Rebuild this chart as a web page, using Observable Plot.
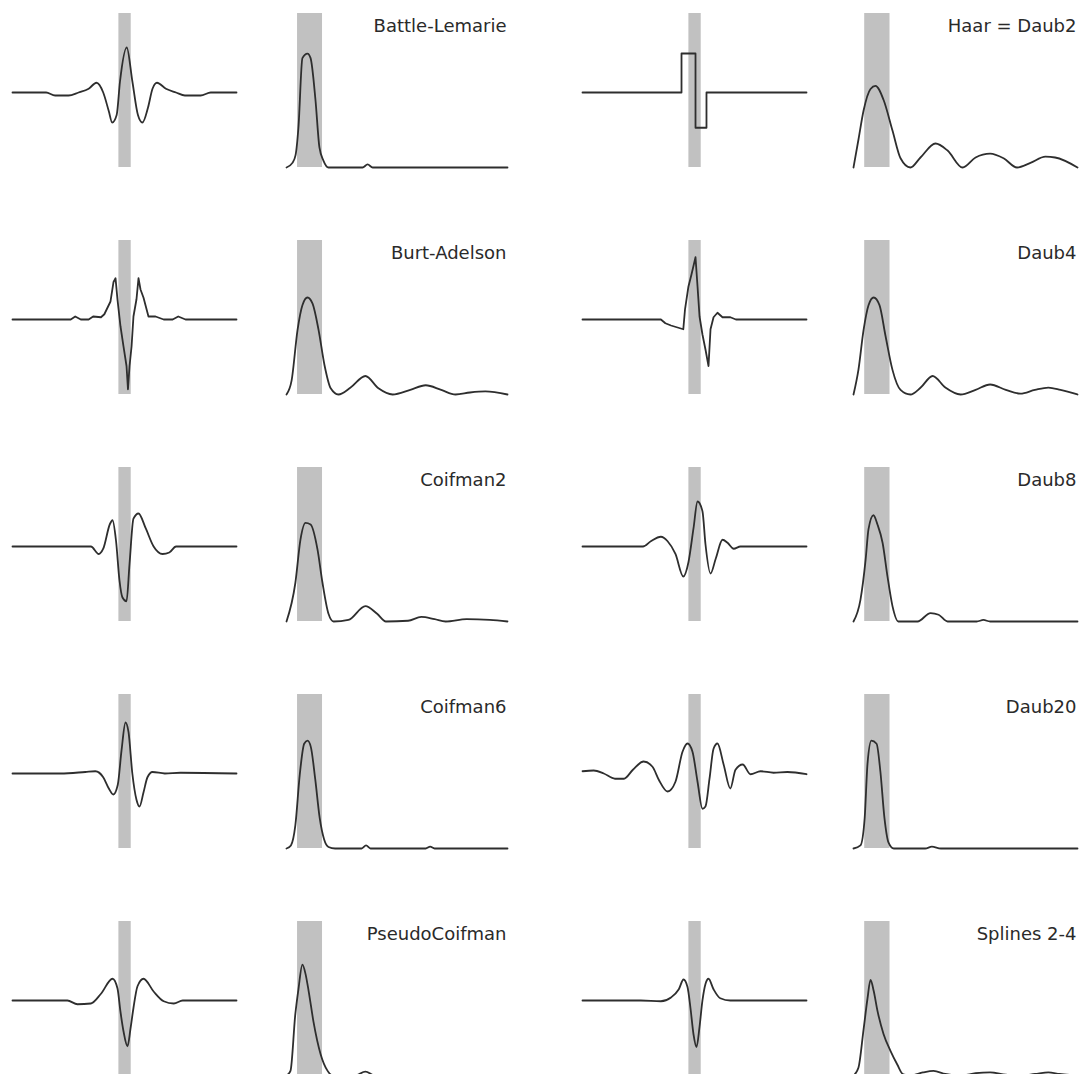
<!DOCTYPE html>
<html>
<head>
<meta charset="utf-8">
<script src="https://cdn.jsdelivr.net/npm/d3@7"></script>
<script src="https://cdn.jsdelivr.net/npm/@observablehq/plot@0.6"></script>
<style>
  html, body { margin: 0; padding: 0; background: #fff; }
  #sheet { position: relative; width: 1084px; height: 1074px; overflow: hidden; background: #fff; }
  .panel { position: absolute; }
  .panel svg { overflow: visible; }
</style>
</head>
<body>
<div id="sheet"></div>
<script>
// Wavelet shapes (time domain: [t, amplitude]) and spectra (frequency: [f, magnitude]).
// Time runs over [-1, 1] with the wavelet centred at 0; frequency runs over [0, 1].

const battleTime = [[-1,0],[-0.70,0],[-0.62,-0.04],[-0.50,-0.04],[-0.41,0],[-0.32,0.05],[-0.25,0.13],[-0.19,0],[-0.14,-0.25],[-0.11,-0.40],[-0.07,-0.30],[-0.04,0.15],[0.02,0.60],[0.07,0.15],[0.12,-0.30],[0.16,-0.40],[0.21,-0.20],[0.25,0.05],[0.29,0.13],[0.37,0.05],[0.46,0],[0.54,-0.04],[0.68,-0.04],[0.77,0],[1,0]];
const battleFreq = [[0,0],[0.027,0.03],[0.041,0.08],[0.054,0.26],[0.072,0.71],[0.095,0.74],[0.109,0.71],[0.131,0.44],[0.149,0.13],[0.167,0.045],[0.19,0],[0.344,0],[0.367,0.02],[0.39,0],[1,0]];

const haarTime = [[-1,0],[-0.116,0],[-0.116,0.52],[0.009,0.52],[0.009,-0.47],[0.107,-0.47],[0.107,0],[1,0]];
const haarFreq = [[0,0],[0.022,0.18],[0.045,0.37],[0.076,0.51],[0.098,0.53],[0.134,0.44],[0.174,0.24],[0.21,0.06],[0.254,0],[0.299,0.065],[0.366,0.156],[0.42,0.11],[0.487,0],[0.545,0.065],[0.61,0.09],[0.67,0.06],[0.73,0],[0.79,0.03],[0.857,0.07],[0.90,0.065],[1,0]];

const burtTime = [[-1,0],[-0.48,0],[-0.44,0.04],[-0.39,0],[-0.32,0],[-0.28,0.04],[-0.21,0.03],[-0.18,0.07],[-0.125,0.24],[-0.098,0.50],[-0.08,0.55],[-0.063,0.27],[-0.036,-0.09],[-0.009,-0.36],[0.018,-0.62],[0.031,-0.93],[0.045,-0.62],[0.063,-0.36],[0.08,0.04],[0.107,0.27],[0.125,0.55],[0.143,0.40],[0.17,0.29],[0.214,0.04],[0.277,0.04],[0.35,0],[0.43,0],[0.48,0.04],[0.545,0],[1,0]];
const burtFreq = [[0,0],[0.023,0.09],[0.05,0.42],[0.072,0.58],[0.095,0.63],[0.118,0.59],[0.145,0.42],[0.172,0.19],[0.2,0.04],[0.235,0],[0.29,0.045],[0.357,0.12],[0.416,0.04],[0.48,0],[0.56,0.03],[0.63,0.06],[0.70,0.03],[0.765,0],[0.83,0.013],[0.9,0.02],[1,0]];

const daub4Time = [[-1,0],[-0.30,0],[-0.26,-0.05],[-0.21,-0.08],[-0.10,-0.13],[-0.085,0.13],[-0.054,0.44],[-0.027,0.60],[0.009,0.83],[0.027,0.44],[0.045,0.04],[0.071,-0.2],[0.098,-0.40],[0.125,-0.62],[0.143,-0.13],[0.17,0.03],[0.205,0.09],[0.25,0.03],[0.32,0.03],[0.37,0],[1,0]];
const daub4Freq = [[0,0],[0.022,0.16],[0.045,0.42],[0.067,0.58],[0.09,0.63],[0.116,0.58],[0.143,0.38],[0.174,0.16],[0.21,0.03],[0.254,0],[0.30,0.045],[0.353,0.12],[0.41,0.045],[0.478,0],[0.545,0.03],[0.61,0.065],[0.68,0.03],[0.745,0.006],[0.81,0.03],[0.87,0.045],[0.924,0.03],[1,0]];

const coif2Time = [[-1,0],[-0.30,0],[-0.23,-0.1],[-0.19,-0.03],[-0.13,0.30],[-0.107,0.35],[-0.076,0.08],[-0.045,-0.45],[-0.018,-0.68],[0.018,-0.73],[0.045,-0.23],[0.08,0.37],[0.125,0.44],[0.19,0.24],[0.26,0],[0.34,-0.1],[0.40,-0.08],[0.46,0],[1,0]];
const coif2Freq = [[0,0],[0.04,0.25],[0.063,0.53],[0.086,0.64],[0.109,0.63],[0.14,0.47],[0.163,0.25],[0.19,0.05],[0.213,0],[0.28,0.01],[0.357,0.10],[0.41,0.05],[0.45,0],[0.55,0.005],[0.61,0.03],[0.67,0.015],[0.72,0],[0.815,0.015],[0.92,0.01],[1,0]];

const daub8Time = [[-1,0],[-0.46,0],[-0.39,0.07],[-0.30,0.13],[-0.24,0.07],[-0.17,-0.1],[-0.10,-0.40],[-0.054,-0.21],[-0.009,0.24],[0.027,0.60],[0.071,0.47],[0.098,0.03],[0.143,-0.36],[0.19,-0.16],[0.25,0.09],[0.295,0.05],[0.35,-0.03],[0.41,0],[1,0]];
const daub8Freq = [[0,0],[0.031,0.14],[0.054,0.40],[0.067,0.60],[0.089,0.69],[0.107,0.63],[0.13,0.51],[0.152,0.29],[0.174,0.10],[0.2,0],[0.286,0],[0.344,0.055],[0.38,0.044],[0.42,0],[0.55,0],[0.58,0.01],[0.61,0],[1,0]];

const coif6Time = [[-1,0],[-0.57,0],[-0.35,0.02],[-0.26,0.03],[-0.19,-0.05],[-0.14,-0.20],[-0.10,-0.28],[-0.06,-0.15],[-0.027,0.30],[0.009,0.68],[0.036,0.55],[0.07,0],[0.107,-0.35],[0.134,-0.44],[0.17,-0.25],[0.205,-0.05],[0.25,0.02],[0.36,0],[0.5,0.01],[1,0]];
const coif6Freq = [[0,0],[0.02,0.02],[0.04,0.15],[0.06,0.48],[0.08,0.68],[0.095,0.70],[0.11,0.66],[0.13,0.45],[0.15,0.20],[0.17,0.06],[0.19,0.01],[0.22,0],[0.34,0],[0.36,0.02],[0.38,0],[0.63,0],[0.65,0.012],[0.67,0],[1,0]];

const daub20Time = [[-1,0.03],[-0.90,0.04],[-0.81,0],[-0.71,-0.07],[-0.63,-0.07],[-0.55,0.05],[-0.455,0.16],[-0.375,0.09],[-0.32,-0.08],[-0.24,-0.24],[-0.17,-0.11],[-0.107,0.29],[-0.0625,0.40],[-0.018,0.29],[0.027,-0.11],[0.071,-0.47],[0.098,-0.44],[0.134,-0.07],[0.17,0.33],[0.205,0.40],[0.26,0.12],[0.32,-0.2],[0.366,0.05],[0.43,0.12],[0.5,-0.01],[0.59,0.03],[0.705,0.01],[0.83,0.02],[1,-0.01]];
const daub20Freq = [[0,0],[0.031,0.02],[0.05,0.20],[0.0625,0.55],[0.08,0.70],[0.103,0.68],[0.12,0.50],[0.138,0.20],[0.156,0.04],[0.18,0],[0.32,0],[0.35,0.012],[0.39,0],[1,0]];

const pseudoTime = [[-1,0],[-0.51,0],[-0.42,-0.05],[-0.30,-0.04],[-0.21,0.09],[-0.107,0.29],[-0.0625,0.16],[-0.036,-0.15],[-0.009,-0.41],[0.027,-0.61],[0.054,-0.37],[0.08,-0.10],[0.116,0.19],[0.17,0.29],[0.26,0.12],[0.35,-0.01],[0.44,-0.04],[0.52,0],[1,0]];
const pseudoFreq = [[0,0],[0.018,0.03],[0.04,0.40],[0.054,0.56],[0.072,0.72],[0.086,0.66],[0.1,0.55],[0.122,0.35],[0.154,0.14],[0.186,0.03],[0.21,0],[0.31,0],[0.357,0.025],[0.4,0],[1,0]];

const splineTime = [[-1,0],[-0.48,0],[-0.30,-0.01],[-0.21,0.04],[-0.14,0.15],[-0.098,0.28],[-0.0625,0.18],[-0.036,-0.10],[-0.009,-0.45],[0.018,-0.62],[0.045,-0.35],[0.071,0],[0.098,0.22],[0.125,0.29],[0.17,0.15],[0.23,0.03],[0.32,0],[1,0]];
const splineFreq = [[0,0],[0.022,0.05],[0.045,0.30],[0.0625,0.50],[0.076,0.62],[0.09,0.55],[0.107,0.42],[0.134,0.27],[0.165,0.16],[0.196,0.07],[0.22,0.01],[0.254,0],[0.31,0.02],[0.357,0.03],[0.41,0.01],[0.48,0],[0.545,0.015],[0.61,0.02],[0.68,0.005],[0.745,0],[0.81,0.01],[0.87,0.02],[0.92,0.01],[1,0]];

// Shaded windows: the wavelet's support centre and its main frequency band.
const timeBand = [-0.05, 0.06];
const freqBand = [0.05, 0.163];

const wavelets = [
  {name: "Battle-Lemarie", time: battleTime, freq: battleFreq, row: 0, side: 0, curve: "monotone-x"},
  {name: "Haar = Daub2",   time: haarTime,   freq: haarFreq,   row: 0, side: 1, curve: "linear"},
  {name: "Burt-Adelson",   time: burtTime,   freq: burtFreq,   row: 1, side: 0, curve: "linear"},
  {name: "Daub4",          time: daub4Time,  freq: daub4Freq,  row: 1, side: 1, curve: "linear"},
  {name: "Coifman2",       time: coif2Time,  freq: coif2Freq,  row: 2, side: 0, curve: "monotone-x"},
  {name: "Daub8",          time: daub8Time,  freq: daub8Freq,  row: 2, side: 1, curve: "monotone-x"},
  {name: "Coifman6",       time: coif6Time,  freq: coif6Freq,  row: 3, side: 0, curve: "monotone-x"},
  {name: "Daub20",         time: daub20Time, freq: daub20Freq, row: 3, side: 1, curve: "monotone-x"},
  {name: "PseudoCoifman",  time: pseudoTime, freq: pseudoFreq, row: 4, side: 0, curve: "monotone-x"},
  {name: "Splines 2-4",    time: splineTime, freq: splineFreq, row: 4, side: 1, curve: "monotone-x"}
];

// Page layout of the 5 x 4 grid of small panels.
const rowTop = [13, 240, 467, 694, 921];
const colLeft = [12, 286, 582, 853];
const colWidth = [224, 221, 224, 224];
const panelHeight = 154;
const PAD = 6;
const INK = "#2e2e2e";
const SHADE = "#c1c1c1";
const TIME_Y = [-1, 1.053];   // zero line sits 79px below the panel top
const FREQ_Y = [0, 1];

const sheet = document.getElementById("sheet");

function place(svg, left, top) {
  const box = document.createElement("div");
  box.className = "panel";
  box.style.left = (left - PAD) + "px";
  box.style.top = (top - PAD) + "px";
  box.appendChild(svg);
  sheet.appendChild(box);
}

function timePanel(w) {
  return Plot.plot({
    width: w.pw + 2 * PAD,
    height: panelHeight + 2 * PAD,
    margin: PAD,
    x: {domain: [-1, 1], axis: null},
    y: {domain: TIME_Y, axis: null},
    marks: [
      Plot.rect([timeBand], {x1: d => d[0], x2: d => d[1], y1: () => TIME_Y[0], y2: () => TIME_Y[1], fill: SHADE}),
      Plot.line(w.time, {x: d => d[0], y: d => d[1], stroke: INK, strokeWidth: 1.8, curve: w.curve})
    ]
  });
}

function freqPanel(w) {
  return Plot.plot({
    width: w.pw + 2 * PAD,
    height: panelHeight + 2 * PAD,
    margin: PAD,
    style: {fontFamily: "DejaVu Sans, sans-serif"},
    x: {domain: [0, 1], axis: null},
    y: {domain: FREQ_Y, axis: null},
    marks: [
      Plot.rect([freqBand], {x1: d => d[0], x2: d => d[1], y1: () => FREQ_Y[0], y2: () => FREQ_Y[1], fill: SHADE}),
      Plot.line(w.freq, {x: d => d[0], y: d => d[1], stroke: INK, strokeWidth: 1.8, curve: "monotone-x"}),
      Plot.text([w.name], {text: d => d, frameAnchor: "top-right", textAnchor: "end", lineAnchor: "top", dx: -1, dy: 6, fontSize: 18, fill: "#2a2a2a"})
    ]
  });
}

for (const w of wavelets) {
  const tc = w.side * 2, fc = w.side * 2 + 1;
  const top = rowTop[w.row];
  place(timePanel({...w, pw: colWidth[tc]}), colLeft[tc], top);
  place(freqPanel({...w, pw: colWidth[fc]}), colLeft[fc], top);
}
</script>
</body>
</html>
